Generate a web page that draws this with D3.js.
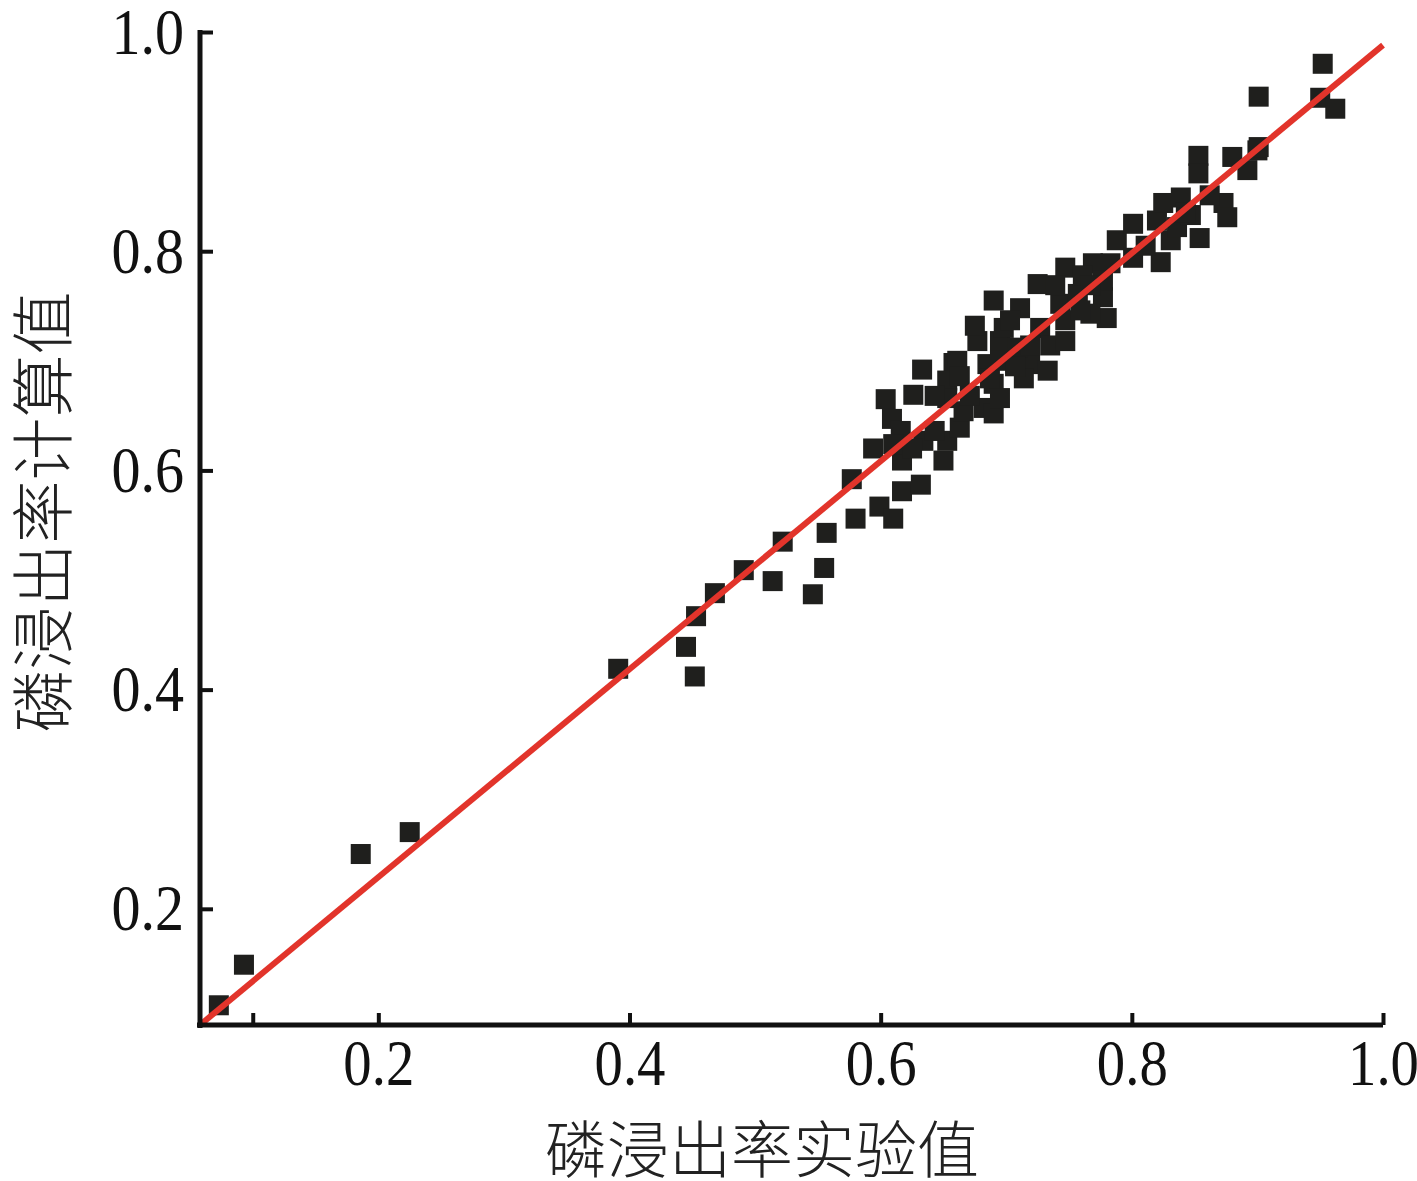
<!DOCTYPE html>
<html>
<head>
<meta charset="utf-8">
<script src="https://cdn.jsdelivr.net/npm/d3@7"></script>
<style>
  html, body { margin: 0; padding: 0; background: #fff; }
  svg { display: block; }
</style>
</head>
<body>
<svg id="chart" width="1417" height="1181"></svg>
<script>
// ---- data ----
const expValues = [
  0.073, 0.093, 0.186, 0.225, 0.391, 0.445, 0.452, 0.453, 0.468, 0.491,
  0.514, 0.522, 0.546, 0.555, 0.557, 0.577, 0.580, 0.599, 0.610, 0.617,
  0.632, 0.633, 0.626, 0.604, 0.609, 0.616, 0.594, 0.617, 0.610, 0.634,
  0.650, 0.653, 0.663, 0.658, 0.653, 0.653, 0.666, 0.682, 0.690, 0.690,
  0.685, 0.677, 0.695, 0.690, 0.711, 0.725, 0.747, 0.769, 0.788, 0.777,
  0.780, 0.767, 0.743, 0.727, 0.698, 0.661, 0.719, 0.733, 0.714, 0.687,
  0.695, 0.757, 0.709, 0.823, 0.801, 0.783, 0.801, 0.820, 0.831, 0.836,
  0.825, 0.839, 0.854, 0.873, 0.876, 0.853, 0.853, 0.880, 0.900, 0.892,
  0.901, 0.901, 0.952, 0.950, 0.962, 0.862, 0.847, 0.625, 0.643, 0.747,
  0.735, 0.761, 0.777, 0.675, 0.703, 0.719, 0.695, 0.707, 0.671, 0.739,
  0.759, 0.767, 0.811, 0.843, 0.643, 0.663, 0.747
];
const calcValues = [
  0.112, 0.149, 0.250, 0.270, 0.419, 0.439, 0.412, 0.467, 0.488, 0.509,
  0.499, 0.535, 0.487, 0.511, 0.543, 0.592, 0.556, 0.567, 0.556, 0.581,
  0.587, 0.692, 0.669, 0.665, 0.647, 0.636, 0.620, 0.609, 0.624, 0.627,
  0.609, 0.627, 0.639, 0.698, 0.682, 0.666, 0.654, 0.657, 0.652, 0.679,
  0.697, 0.718, 0.718, 0.755, 0.748, 0.770, 0.785, 0.789, 0.810, 0.758,
  0.739, 0.743, 0.752, 0.730, 0.730, 0.700, 0.697, 0.691, 0.684, 0.684,
  0.666, 0.761, 0.712, 0.790, 0.794, 0.789, 0.825, 0.828, 0.810, 0.822,
  0.844, 0.849, 0.812, 0.844, 0.831, 0.887, 0.871, 0.886, 0.892, 0.874,
  0.895, 0.941, 0.971, 0.940, 0.930, 0.851, 0.833, 0.620, 0.636, 0.737,
  0.714, 0.778, 0.773, 0.732, 0.737, 0.714, 0.700, 0.695, 0.668, 0.769,
  0.746, 0.769, 0.805, 0.835, 0.668, 0.686, 0.718
];
const xDomain = [0.058, 1.0];
const yDomain = [0.094, 1.0];
const xTickValues = [0.1, 0.2, 0.4, 0.6, 0.8, 1.0];
const xTickLabels = ["", "0.2", "0.4", "0.6", "0.8", "1.0"];
const yTickValues = [0.2, 0.4, 0.6, 0.8, 1.0];
const yTickLabels = ["0.2", "0.4", "0.6", "0.8", "1.0"];
const fitIntercept = 0.039;
const fitSlope = 0.949;
const xTitle = "磷浸出率实验值";
const yTitle = "磷浸出率计算值";

// ---- drawing ----
const svg = d3.select("#chart");
const x = d3.scaleLinear().domain(xDomain).range([200, 1383]);
const y = d3.scaleLinear().domain(yDomain).range([1025, 32]);

const numFont = "'Liberation Serif', 'Times New Roman', serif";

// points
const pts = expValues.map((v, i) => ({ e: v, c: calcValues[i] }));
const sq = 20;
svg.append("g").selectAll("rect").data(pts).join("rect")
  .attr("x", d => x(d.e) - sq / 2)
  .attr("y", d => y(d.c) - sq / 2)
  .attr("width", sq).attr("height", sq)
  .attr("fill", "#1f1f1d");

// fit line
const line = d3.line().x(d => x(d)).y(d => y(fitIntercept + fitSlope * d));
svg.append("path")
  .attr("d", line(xDomain))
  .attr("fill", "none")
  .attr("stroke", "#e2342b")
  .attr("stroke-width", 6);

// x axis
const xAxis = d3.axisBottom(x)
  .tickValues(xTickValues)
  .tickFormat((d, i) => xTickLabels[i])
  .tickSizeInner(-12)
  .tickSizeOuter(0);
const gx = svg.append("g").attr("transform", "translate(0,1025)").call(xAxis);
gx.select(".domain").attr("stroke", "#111").attr("stroke-width", 5)
  .attr("d", `M${x.range()[0] - 3},0H${x.range()[1]}`);
gx.selectAll(".tick line").attr("stroke", "#111").attr("stroke-width", 4);
gx.selectAll(".tick text")
  .attr("y", 60).attr("dy", 0)
  .attr("font-family", numFont).attr("font-size", 66)
  .attr("fill", "#111")
  .attr("transform", "scale(0.86,1)");

// y axis
const yAxis = d3.axisLeft(y)
  .tickValues(yTickValues)
  .tickFormat((d, i) => yTickLabels[i])
  .tickSizeInner(-13)
  .tickSizeOuter(0);
const gy = svg.append("g").attr("transform", "translate(200,0)").call(yAxis);
gy.select(".domain").attr("stroke", "#111").attr("stroke-width", 5)
  .attr("d", `M0,${y.range()[0] + 3}V${y.range()[1] - 2}`);
gy.selectAll(".tick line").attr("stroke", "#111").attr("stroke-width", 4);
gy.selectAll(".tick text")
  .attr("x", -18).attr("dy", "0.32em")
  .attr("font-family", numFont).attr("font-size", 66)
  .attr("fill", "#111")
  .attr("transform", "scale(0.88,1)");

// titles
svg.append("text")
  .attr("x", 762).attr("y", 1146)
  .attr("text-anchor", "middle").attr("dominant-baseline", "central")
  .attr("font-family", "'Noto Sans CJK SC', sans-serif")
  .attr("font-size", 62).attr("font-weight", 300).attr("fill", "#222")
  .text(xTitle);
svg.append("text")
  .attr("transform", "translate(38,512) rotate(-90)")
  .attr("text-anchor", "middle").attr("dominant-baseline", "central")
  .attr("font-family", "'Noto Sans CJK SC', sans-serif")
  .attr("font-size", 63).attr("font-weight", 300).attr("fill", "#222")
  .text(yTitle);
</script>
</body>
</html>
